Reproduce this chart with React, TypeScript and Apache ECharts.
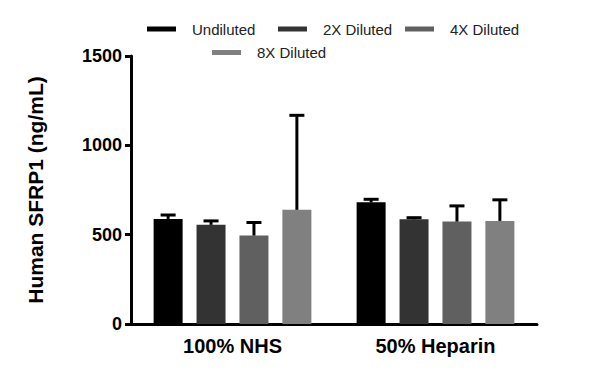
import React, { useEffect, useRef } from "react";
import * as echarts from "echarts";

const categories = ["100% NHS", "50% Heparin"];
const seriesNames = ["Undiluted", "2X Diluted", "4X Diluted", "8X Diluted"];
const seriesColors = ["#000000", "#333333", "#606060", "#808080"];
const undilutedMean = [588, 681];
const undilutedUpper = [610, 698];
const dil2Mean = [555, 586];
const dil2Upper = [577, 595];
const dil4Mean = [495, 573];
const dil4Upper = [568, 661];
const dil8Mean = [639, 577];
const dil8Upper = [1168, 695];
const yTicks = { min: 0, max: 1500, interval: 500 };

const means = [undilutedMean, dil2Mean, dil4Mean, dil8Mean];
const uppers = [undilutedUpper, dil2Upper, dil4Upper, dil8Upper];

const FONT = "'Liberation Sans', Arial, sans-serif";
const BAR_W = 29;
const BAR_GAP = 0.48;

export default function App() {
  const ref = useRef<HTMLDivElement>(null);
  useEffect(() => {
    if (!ref.current) return;
    const chart = echarts.init(ref.current, undefined, { renderer: "svg" });
    const step = BAR_W * (1 + BAR_GAP);

    const barSeries = seriesNames.map((name, k) => ({
      name,
      type: "bar",
      data: means[k],
      barWidth: BAR_W,
      barGap: BAR_GAP * 100 + "%",
      itemStyle: { color: seriesColors[k] },
      z: 2,
    }));

    const errSeries = seriesNames.map((name, k) => ({
      name: name + " error",
      type: "custom",
      z: 3,
      data: categories.map((_, i) => [i, means[k][i], uppers[k][i]]),
      encode: { x: 0, y: [1, 2] },
      renderItem: (params: any, api: any) => {
        const base = api.coord([api.value(0), api.value(1)]);
        const top = api.coord([api.value(0), api.value(2)]);
        const cx = base[0] + (k - 1.5) * step;
        const style = { stroke: "#000", lineWidth: 3 };
        return {
          type: "group",
          children: [
            { type: "line", shape: { x1: cx, y1: base[1], x2: cx, y2: top[1] }, style },
            { type: "line", shape: { x1: cx - 7.5, y1: top[1], x2: cx + 7.5, y2: top[1] }, style },
          ],
        };
      },
    }));

    const legendPos = [
      { left: 147, top: 21 },
      { left: 278, top: 21 },
      { left: 405, top: 21 },
      { left: 212, top: 44.5 },
    ];
    const legends = seriesNames.map((name, k) => ({
      data: [name],
      left: legendPos[k].left,
      top: legendPos[k].top,
      padding: 0,
      icon: "rect",
      itemWidth: 29,
      itemHeight: 5,
      selectedMode: false,
      textStyle: {
        fontFamily: FONT,
        fontSize: 15,
        color: "#222",
        lineHeight: 16,
        padding: [0, 0, 0, 11],
      },
    }));

    chart.setOption({
      animation: false,
      textStyle: { fontFamily: FONT },
      legend: legends,
      grid: { left: 131, right: 63, top: 56, bottom: 54 },
      xAxis: {
        type: "category",
        data: categories,
        axisLine: { lineStyle: { color: "#000", width: 3 } },
        axisTick: { alignWithLabel: true, length: 7, lineStyle: { color: "#000", width: 3 } },
        axisLabel: { fontFamily: FONT, fontSize: 20, fontWeight: "bold", color: "#000", margin: 12 },
      },
      yAxis: {
        type: "value",
        min: yTicks.min,
        max: yTicks.max,
        interval: yTicks.interval,
        name: "Human SFRP1 (ng/mL)",
        nameLocation: "middle",
        nameGap: 85,
        nameRotate: 90,
        nameTextStyle: { fontFamily: FONT, fontSize: 21, fontWeight: "bold", color: "#000" },
        axisLine: { show: true, lineStyle: { color: "#000", width: 3 } },
        axisTick: { show: true, length: 6, lineStyle: { color: "#000", width: 3 } },
        splitLine: { show: false },
        axisLabel: {
          fontFamily: FONT,
          fontSize: 18,
          fontWeight: "bold",
          color: "#000",
          margin: 9,
          formatter: (v: number) => String(v),
        },
      },
      series: [...barSeries, ...errSeries],
    });
    return () => chart.dispose();
  }, []);
  return (
    <div
      ref={ref}
      style={{ position: "fixed", left: 0, top: 0, width: 600, height: 378, background: "#fff" }}
    />
  );
}
